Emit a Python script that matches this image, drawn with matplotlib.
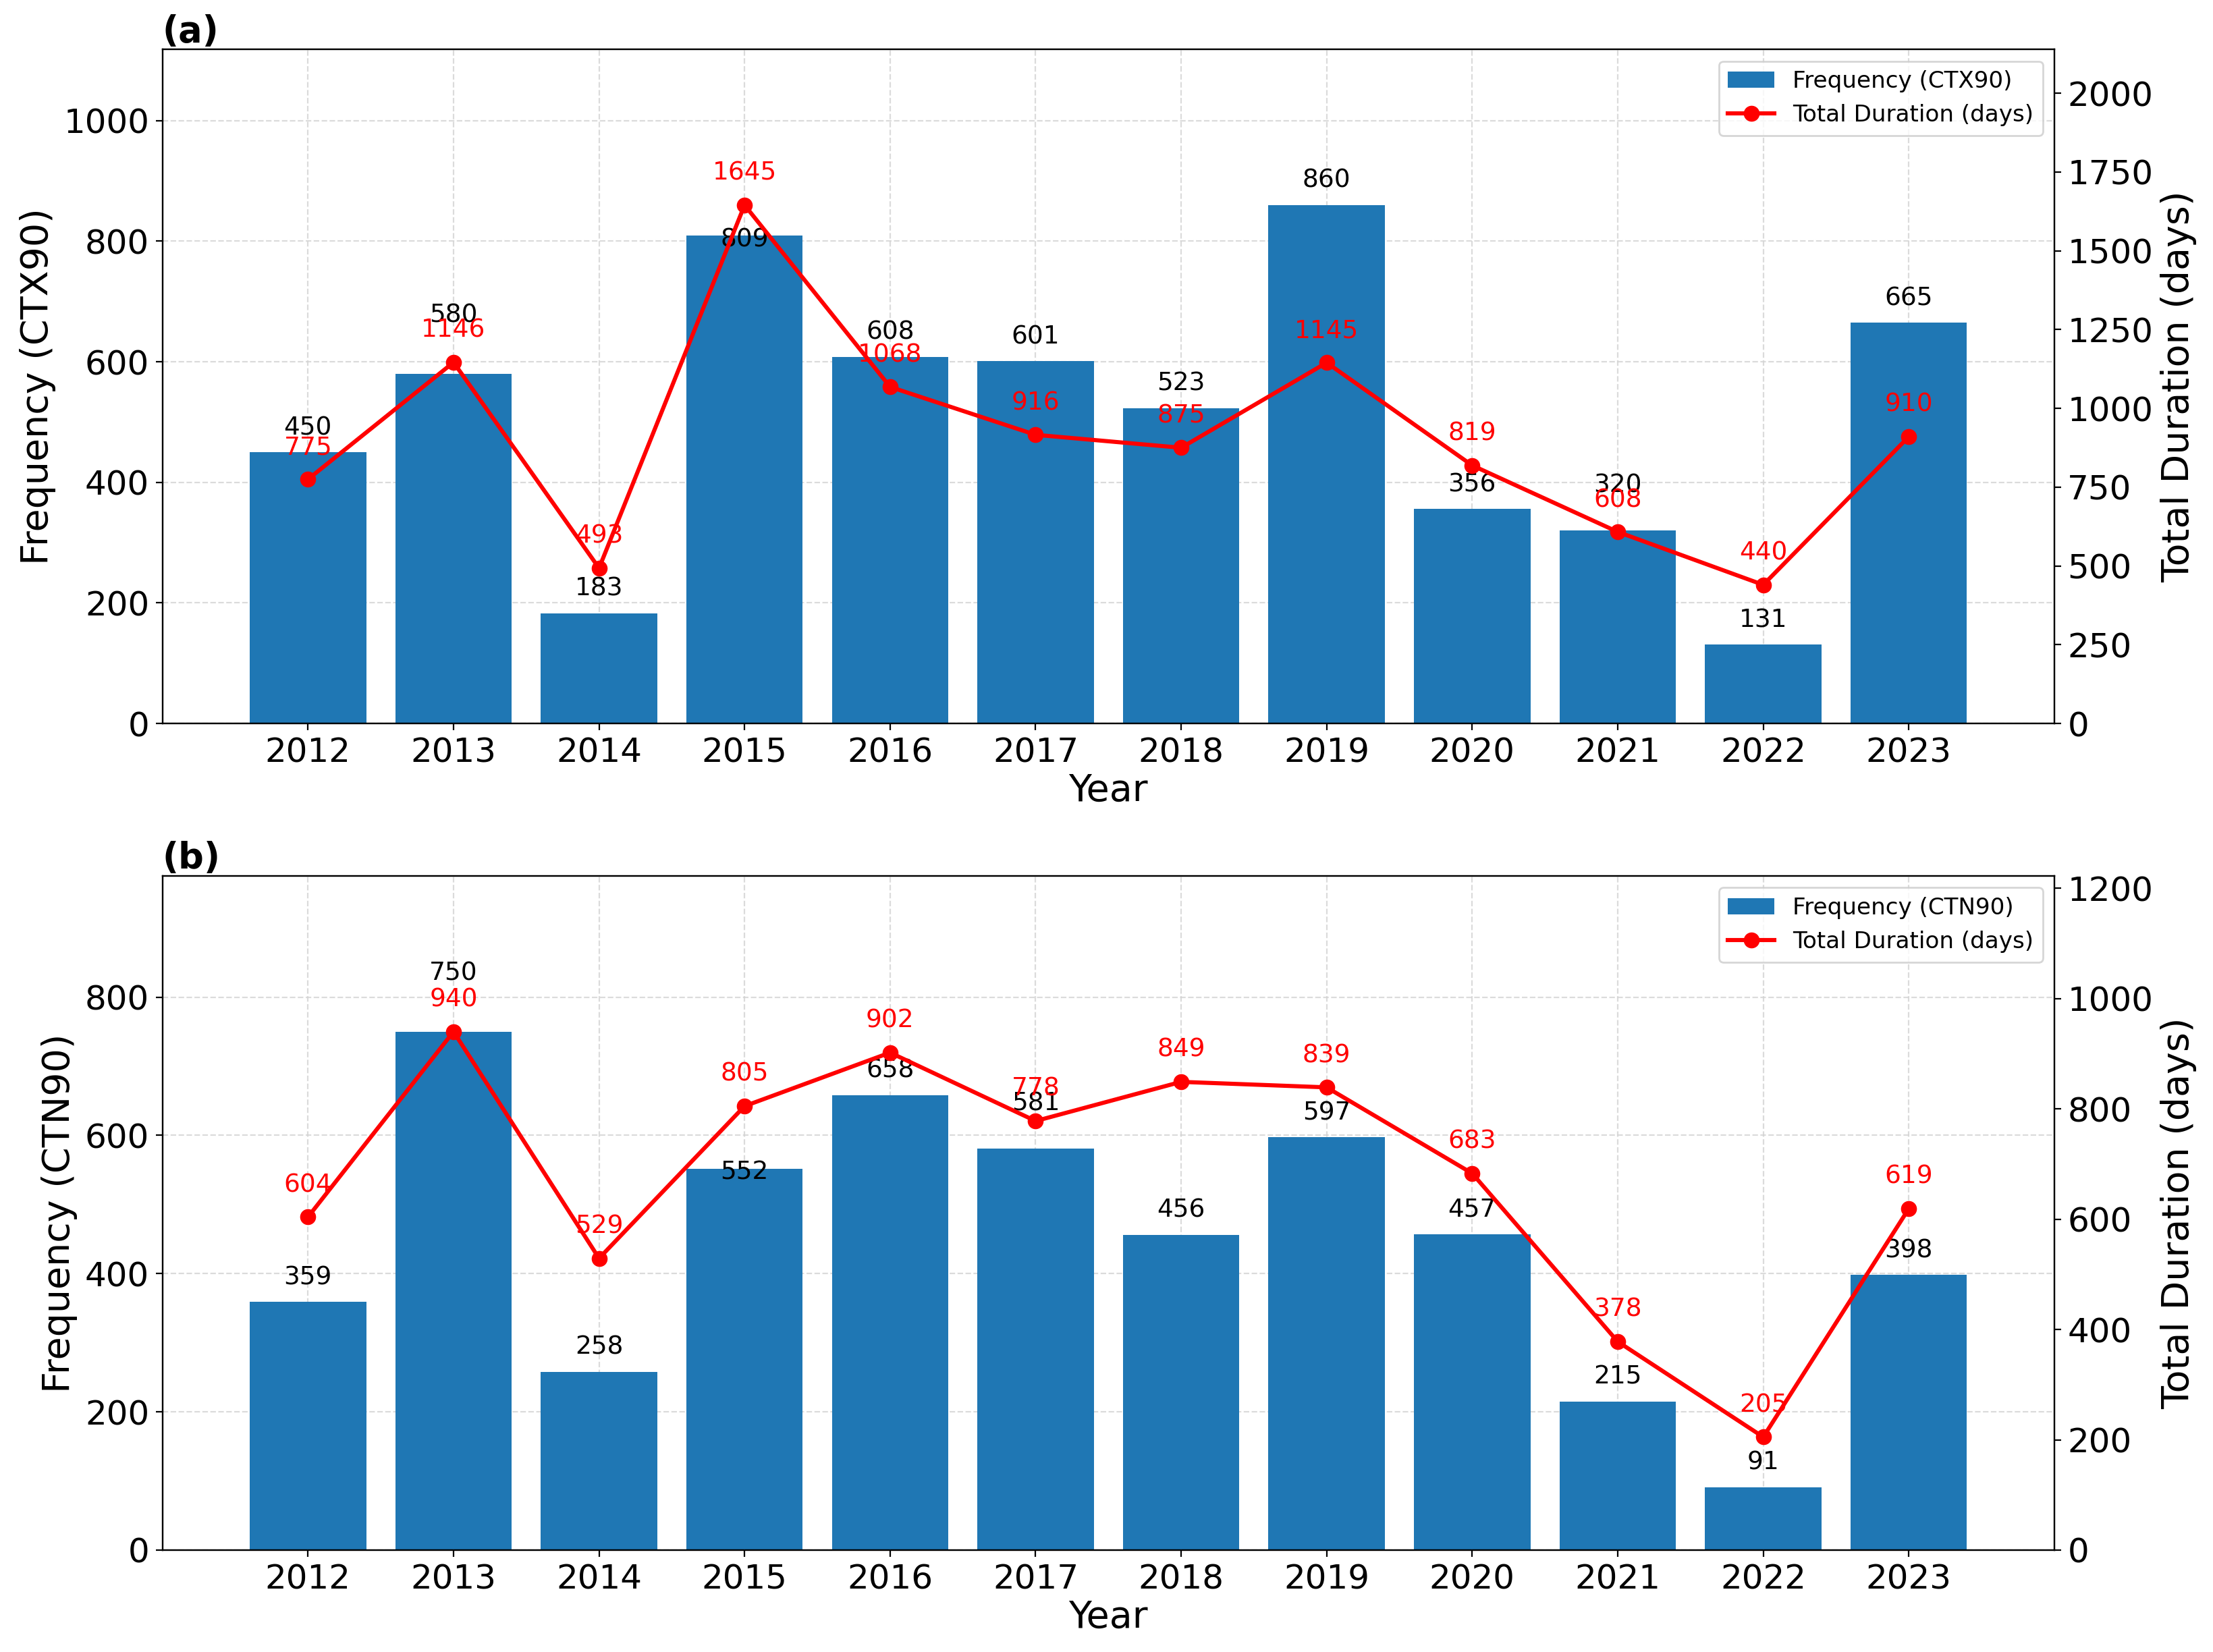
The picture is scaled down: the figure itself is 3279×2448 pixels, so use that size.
import matplotlib
matplotlib.use('Agg')
import matplotlib.pyplot as plt
import numpy as np

years = [2012, 2013, 2014, 2015, 2016, 2017, 2018, 2019, 2020, 2021, 2022, 2023]

# CTX90
freq_ctx = [450, 580, 183, 809, 608, 601, 523, 860, 356, 320, 131, 665]
dur_ctx = [775, 1146, 493, 1645, 1068, 916, 875, 1145, 819, 608, 440, 910]

# CTN90
freq_ctn = [359, 750, 258, 552, 658, 581, 456, 597, 457, 215, 91, 398]
dur_ctn = [604, 940, 529, 805, 902, 778, 849, 839, 683, 378, 205, 619]

panels = [('(a)', 'CTX90', freq_ctx, dur_ctx),
          ('(b)', 'CTN90', freq_ctn, dur_ctn)]

# hand nudges (points) for black labels that sit near the red ones
nudge = {('CTX90', 2013): 18, ('CTX90', 2021): 11, ('CTX90', 2015): -15,
         ('CTN90', 2013): 18, ('CTN90', 2017): 11, ('CTN90', 2015): -15}

fig, axes = plt.subplots(2, 1, figsize=(16.4, 12.24), dpi=200)
fig.subplots_adjust(left=0.0734, right=0.928, top=0.970, bottom=0.0617, hspace=0.2265)

for ax1, (tag, name, freq, dur) in zip(axes, panels):
    bars = ax1.bar(years, freq, width=0.8, color='#1f77b4',
                   label='Frequency (%s)' % name, zorder=2)
    ax1.set_ylim(0, max(freq) * 1.3)
    ax1.set_xlim(2011, 2024)
    ax1.set_xticks(years)
    ax1.set_xlabel('Year', fontsize=20, labelpad=2)
    ax1.set_ylabel('Frequency (%s)' % name, fontsize=20)
    ax1.tick_params(labelsize=18)
    ax1.grid(True, linestyle='--', color='lightgray', alpha=0.8, zorder=0)
    ax1.set_axisbelow(True)
    for x, v in zip(years, freq):
        dy = 6.5 + nudge.get((name, x), 0)
        ax1.annotate(str(v), (x, v), xytext=(0, dy), textcoords='offset points',
                     ha='center', va='bottom', fontsize=13.5, color='black')

    ax2 = ax1.twinx()
    line, = ax2.plot(years, dur, color='red', marker='o', markersize=7.5,
                     linewidth=2.2, label='Total Duration (days)')
    ax2.set_ylim(0, max(dur) * 1.3)
    ax2.set_ylabel('Total Duration (days)', fontsize=20)
    ax2.tick_params(labelsize=18)
    for x, v in zip(years, dur):
        ax2.annotate(str(v), (x, v), xytext=(0, 10.5), textcoords='offset points',
                     ha='center', va='bottom', fontsize=13.5, color='red')

    ax1.set_title(tag, loc='left', fontweight='bold', fontsize=19, pad=4)
    ax2.legend([bars, line], [bars.get_label(), line.get_label()],
               loc='upper right', fontsize=12.3)

plt.savefig('out.png', dpi=200)
